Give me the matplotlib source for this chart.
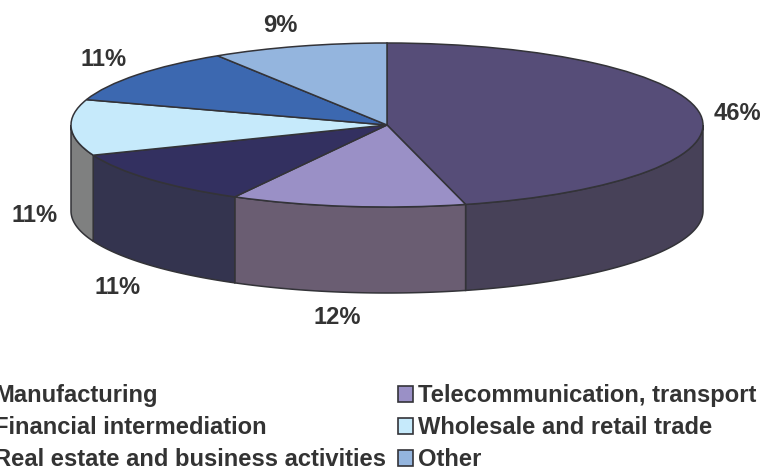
import numpy as np
import matplotlib
matplotlib.use("Agg")
import matplotlib.pyplot as plt
from matplotlib.patches import Patch

plt.rcParams['font.family'] = ['Liberation Sans', 'DejaVu Sans']

categories = ["Manufacturing", "Telecommunication, transport", "Financial intermediation",
              "Wholesale and retail trade", "Real estate and business activities", "Other"]
values = [46, 12, 11, 11, 11, 9]
labels = ["46%", "12%", "11%", "11%", "11%", "9%"]
top_colors = ["#564D78", "#9A90C6", "#333060", "#C6EAFB", "#3C68B0", "#94B5DE"]
side_colors = ["#474158", "#6A5D72", "#34344F", "#7F8080", "#3C68B0", "#94B5DE"]
EDGE = "#333338"
TEXT = "#333333"
FS = 17.1

W, H = 764, 471
CX, CY, RX, RY, DEPTH = 387, 125, 316, 82, 86
LABEL_POS = [(737, 114), (337, 318), (118, 288), (35, 216), (104, 59), (280, 26)]

fig = plt.figure(figsize=(W / 100, H / 100), dpi=100)
ax = fig.add_axes([0, 0, 1, 1])

wedges, _ = ax.pie(values, startangle=90, counterclock=False, radius=1,
                   colors=top_colors,
                   wedgeprops=dict(edgecolor=EDGE, linewidth=1.1, zorder=3))
ax.set_aspect('auto')
ax.set_xlim(-CX / RX, (W - CX) / RX)
ax.set_ylim(-(H - CY) / RY, CY / RY)
ax.axis('off')

# rim: clockwise angle from the top, only the front half (90..270 deg) is visible
d = DEPTH / RY
edges = np.cumsum([0] + values) / sum(values) * 360
for i in range(len(values)):
    a, b = max(edges[i], 90), min(edges[i + 1], 270)
    if b <= a:
        continue
    t = np.radians(np.linspace(a, b, 80))
    x, y = np.sin(t), np.cos(t)
    ax.fill(np.r_[x, x[::-1]], np.r_[y, y[::-1] - d],
            facecolor=side_colors[i], edgecolor=EDGE, linewidth=1.1, zorder=2)

for lab, (px, py) in zip(labels, LABEL_POS):
    ax.text((px - CX) / RX, (CY - py) / RY, lab, ha='center', va='center',
            fontsize=FS, fontweight='bold', color=TEXT)

order = [0, 2, 4, 1, 3, 5]
handles = [Patch(facecolor=top_colors[i], edgecolor=EDGE, linewidth=1.2) for i in order]
names = [categories[i] for i in order]
leg = ax.legend(handles, names, ncol=2, frameon=False, loc='upper left',
                bbox_to_anchor=(-26 / W, 1 - 384 / H), borderaxespad=0, borderpad=0,
                prop=dict(size=FS, weight='bold'), labelcolor=TEXT,
                handlelength=0.64, handleheight=0.64, handletextpad=0.21,
                columnspacing=0.5, labelspacing=0.38)

fig.savefig("out.png", dpi=100)
